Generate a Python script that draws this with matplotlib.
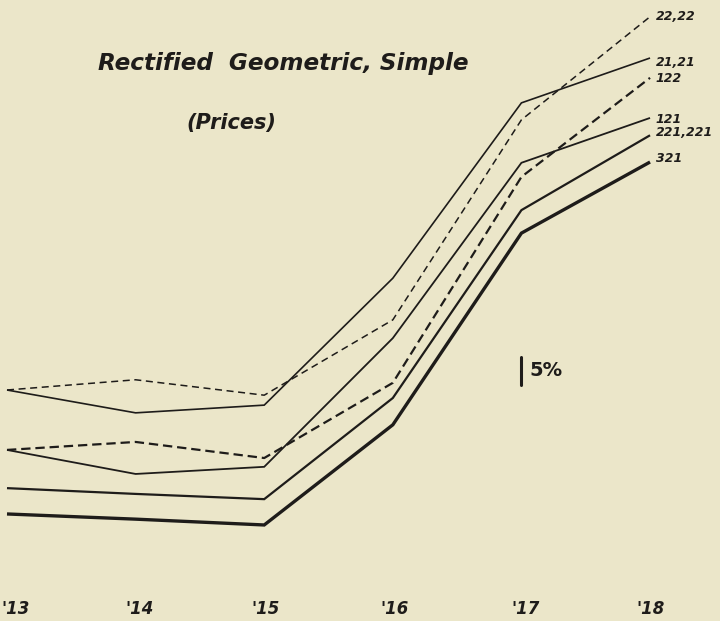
import matplotlib
matplotlib.use("Agg")
import matplotlib.pyplot as plt
from matplotlib import transforms

# Years on the horizontal axis
years = [1913, 1914, 1915, 1916, 1917, 1918]
year_labels = ["'13", "'14", "'15", "'16", "'17", "'18"]

# Price index numbers, 1913 = 100, one list per formula
idx_22_22 = [100, 101.8, 99.1, 113.0, 160.1, 191.6]
idx_21_21 = [100, 96.1, 97.4, 121.5, 164.9, 178.3]
idx_122 = [100, 101.4, 98.6, 112.4, 160.9, 191.2]
idx_121 = [100, 95.9, 97.1, 121.5, 164.9, 178.3]
idx_221_221 = [100, 99.0, 98.1, 117.0, 162.3, 184.9]
idx_321 = [100, 99.1, 98.1, 116.8, 163.1, 184.6]

series_names = ["22,22", "21,21", "122", "121", "221,221", "321"]
series_values = [idx_22_22, idx_21_21, idx_122, idx_121, idx_221_221, idx_321]

# Curves are displaced vertically (ratio scale) so they do not overlap
display_shift = [1.241, 1.241, 1.118, 1.118, 1.046, 1.0]

# Line styles: (linewidth, dash pattern or None)
styles = [
    (1.1, (4.6, 3.0)),
    (1.2, None),
    (1.6, (4.2, 2.2)),
    (1.3, None),
    (1.6, None),
    (2.4, None),
]
# Downward nudge (points) of the end labels
label_dy = [0, 2.9, 0.7, 1.2, -2.2, -2.2]
# Horizontal nudge (points) of the year labels
year_label_dx = [6.5, 2.9, 0.7, 1.4, 2.9, 0.7]

bg = "#ebe6c9"
ink = "#1e1c1a"
font_family = ["DejaVu Sans"]

fig = plt.figure(figsize=(7.2, 6.21), dpi=100, facecolor=bg)
ax = fig.add_axes([0, 0, 1, 1])
ax.set_facecolor(bg)
ax.set_yscale("log")
ax.set_xlim(1912.9456, 1918.544)
ax.set_ylim(82.99, 244.8)
ax.axis("off")

for name, vals, shift, (lw, dash), dy in zip(series_names, series_values,
                                            display_shift, styles, label_dy):
    yy = [v * shift for v in vals]
    line, = ax.plot(years, yy, color=ink, lw=lw, solid_joinstyle="miter",
                    solid_capstyle="butt")
    if dash is not None:
        line.set_linestyle((0, dash))
    ax.annotate(name, xy=(years[-1], yy[-1]), xytext=(4, -dy),
                textcoords="offset points", ha="left", va="center",
                fontsize=9, fontweight="bold", style="italic",
                family=font_family, color=ink)

# Scale bar: a 5 % rise on the ratio scale
bar_base = 125.2
ax.plot([1917.0, 1917.0], [bar_base, bar_base * 1.05], color=ink, lw=2.2,
        solid_capstyle="round")
ax.annotate("5%", xy=(1917.0, bar_base * 1.05 ** 0.5), xytext=(6, 0),
            textcoords="offset points", ha="left", va="center",
            fontsize=14, fontweight="bold", family=font_family, color=ink)

# Year labels along the bottom
trans = transforms.blended_transform_factory(ax.transData, ax.transAxes)
for yr, lab, dx in zip(years, year_labels, year_label_dx):
    ax.annotate(lab, xy=(yr, 0.0193), xycoords=trans, xytext=(dx, 0),
                textcoords="offset points", ha="center", va="center",
                fontsize=12, fontweight="bold", style="italic",
                family=font_family, color=ink)

fig.text(0.394, 0.887, "Rectified  Geometric, Simple", ha="center",
         va="baseline", fontsize=16.7, fontweight="bold", style="italic",
         family=font_family, color=ink)
fig.text(0.321, 0.802, "(Prices)", ha="center", va="center", fontsize=15,
         fontweight="bold", style="italic", family=font_family, color=ink)

fig.savefig("out.png", dpi=100, facecolor=bg)
